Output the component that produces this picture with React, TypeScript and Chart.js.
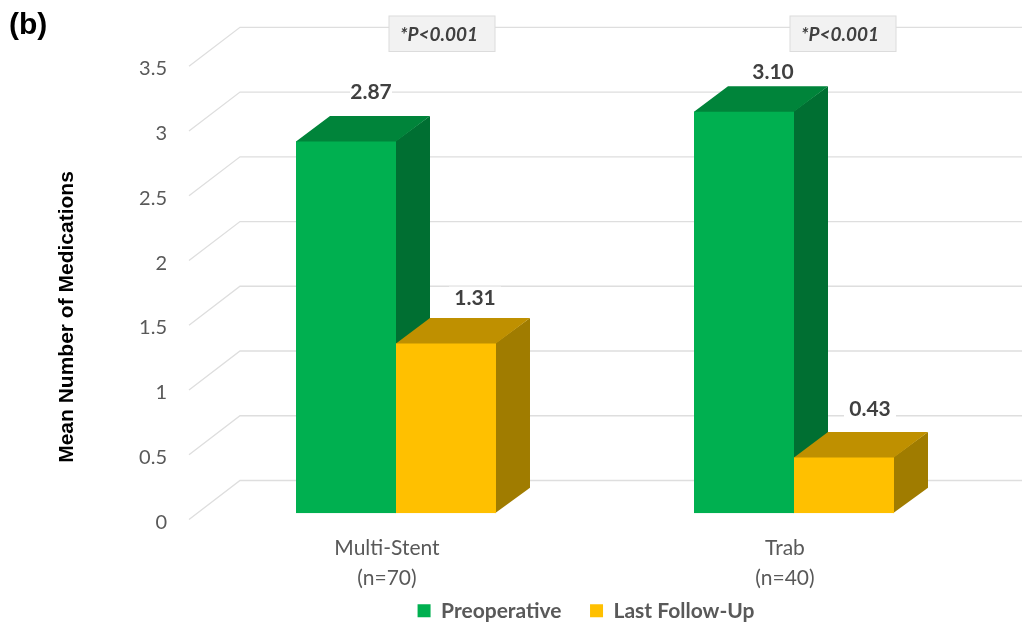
import React, { useEffect, useRef } from "react";
import { Chart, registerables } from "chart.js";

Chart.register(...registerables);

const categories = [["Multi-Stent", "(n=70)"], ["Trab", "(n=40)"]];
const preoperative = [2.87, 3.1];
const lastFollowUp = [1.31, 0.43];
const seriesNames = ["Preoperative", "Last Follow-Up"];
const pValueLabels = ["*P<0.001", "*P<0.001"];
const yAxisTitle = "Mean Number of Medications";
const panelLabel = "(b)";

const FRONT = ["#00b050", "#ffc000"];
const TOP = ["#00843a", "#bf9000"];
const SIDE = ["#006f32", "#a07c00"];
const GRID = "#dedede";
const BODY_FONT = "Lato";
const ARIAL = '"Liberation Sans"';
const DEPTH_X = 34;
const DEPTH_Y = 25.5;
const LABEL_SHIFT = [
  [[25, -50], [29, -41]],
  [[29, -46], [26, -49]],
];
const LABEL_BOX_WIDTH = [
  [42, 52],
  [52, 52],
];
const P_BOX_SHIFT = [46, 49];

const threeD = {
  id: "threeD",
  beforeDatasetsDraw(chart: any) {
    const { ctx } = chart;
    const yScale = chart.scales.y;
    ctx.save();
    ctx.strokeStyle = GRID;
    ctx.lineWidth = 1.3;
    yScale.ticks.forEach((t: any) => {
      const y = yScale.getPixelForValue(t.value);
      ctx.beginPath();
      ctx.moveTo(189, y + 6.3);
      ctx.lineTo(240, y - 32.7);
      ctx.lineTo(1022, y - 32.7);
      ctx.stroke();
    });
    [0, 1].forEach((ds) => {
      chart.getDatasetMeta(ds).data.forEach((bar: any) => {
        const l = bar.x - bar.width / 2;
        const r = bar.x + bar.width / 2;
        const t = bar.y;
        const b = bar.base;
        ctx.fillStyle = SIDE[ds];
        ctx.beginPath();
        ctx.moveTo(r - 1, t);
        ctx.lineTo(r + DEPTH_X, t - DEPTH_Y);
        ctx.lineTo(r + DEPTH_X, b - DEPTH_Y);
        ctx.lineTo(r - 1, b);
        ctx.closePath();
        ctx.fill();
        ctx.fillStyle = TOP[ds];
        ctx.beginPath();
        ctx.moveTo(l, t + 1);
        ctx.lineTo(l, t);
        ctx.lineTo(l + DEPTH_X, t - DEPTH_Y);
        ctx.lineTo(r + DEPTH_X, t - DEPTH_Y);
        ctx.lineTo(r, t);
        ctx.lineTo(r, t + 1);
        ctx.closePath();
        ctx.fill();
      });
    });
    ctx.restore();
  },
  afterDatasetsDraw(chart: any) {
    const { ctx } = chart;
    const xScale = chart.scales.x;
    ctx.save();
    ctx.textAlign = "center";
    ctx.textBaseline = "middle";
    [0, 1].forEach((ds) => {
      chart.getDatasetMeta(ds).data.forEach((bar: any, i: number) => {
        const [dx, dy] = LABEL_SHIFT[ds][i];
        const w = LABEL_BOX_WIDTH[ds][i];
        const value = chart.data.datasets[ds].data[i];
        ctx.fillStyle = "#ffffff";
        ctx.fillRect(bar.x + dx - w / 2, bar.y + dy - 11, w, 22);
        ctx.fillStyle = "#404040";
        ctx.font = `bold 21px ${BODY_FONT}`;
        ctx.fillText(value.toFixed(2), bar.x + dx, bar.y + dy + 1);
      });
    });
    pValueLabels.forEach((text, i) => {
      const cx = xScale.getPixelForValue(i) + P_BOX_SHIFT[i];
      ctx.fillStyle = "#f2f2f2";
      ctx.strokeStyle = "#dcdcdc";
      ctx.lineWidth = 1;
      ctx.fillRect(cx - 53, 16, 106, 35.5);
      ctx.strokeRect(cx - 53, 16, 106, 35.5);
      ctx.fillStyle = "#404040";
      ctx.font = `italic bold 19px ${BODY_FONT}`;
      ctx.fillText(text, cx - 3, 34.5);
    });
    ctx.fillStyle = "#000000";
    ctx.font = `bold 30px ${ARIAL}`;
    ctx.textAlign = "left";
    ctx.fillText(panelLabel, 9, 26);
    ctx.save();
    ctx.translate(67, 317);
    ctx.rotate(-Math.PI / 2);
    ctx.textAlign = "center";
    ctx.font = `bold 21px ${ARIAL}`;
    ctx.fillText(yAxisTitle, 0, 0);
    ctx.restore();
    ctx.restore();
  },
  afterLayout(chart: any) {
    const lg = chart.legend;
    lg.left += 89.5;
    lg.right += 89.5;
    lg.top += 8.3;
    lg.bottom += 8.3;
    chart.scales.x.bottom = chart.height;
  },
};

export default function App() {
  const ref = useRef<HTMLCanvasElement>(null);
  useEffect(() => {
    const chart = new Chart(ref.current as HTMLCanvasElement, {
      type: "bar",
      data: {
        labels: categories as any,
        datasets: [
          { label: seriesNames[0], data: preoperative, backgroundColor: FRONT[0] },
          { label: seriesNames[1], data: lastFollowUp, backgroundColor: FRONT[1] },
        ],
      },
      plugins: [threeD],
      options: {
        responsive: false,
        animation: false,
        devicePixelRatio: 1,
        layout: { padding: { left: 0, top: 60, right: 29, bottom: 0 } },
        datasets: { bar: { categoryPercentage: 0.5025, barPercentage: 1 } },
        plugins: {
          tooltip: { enabled: false },
          legend: {
            position: "bottom",
            labels: {
              boxWidth: 13,
              boxHeight: 13,
              padding: 28.5,
              color: "#595959",
              font: { family: BODY_FONT, size: 21, weight: "bold" },
            },
          },
        },
        scales: {
          x: {
            grid: { display: false, drawTicks: false },
            border: { display: false },
            ticks: {
              maxRotation: 0,
              padding: 20,
              labelOffset: -9,
              color: "#595959",
              font: { family: BODY_FONT, size: 21, lineHeight: 30 / 21 },
            },
            afterFit: (s: any) => { s.height = 50.3; },
          },
          y: {
            min: 0,
            max: 3.5,
            grid: { display: false, drawTicks: false },
            border: { display: false },
            ticks: {
              stepSize: 0.5,
              padding: 30,
              labelOffset: 9,
              color: "#595959",
              font: { family: BODY_FONT, size: 20 },
              callback: (v: any) => String(v),
            },
            afterFit: (s: any) => { s.width = 197; },
          },
        },
      } as any,
    });
    return () => chart.destroy();
  }, []);
  return (
    <div style={{ position: "absolute", left: 0, top: 0, width: 1022, height: 623, background: "#fff" }}>
      <canvas ref={ref} width={1022} height={623} style={{ display: "block" }} />
    </div>
  );
}
